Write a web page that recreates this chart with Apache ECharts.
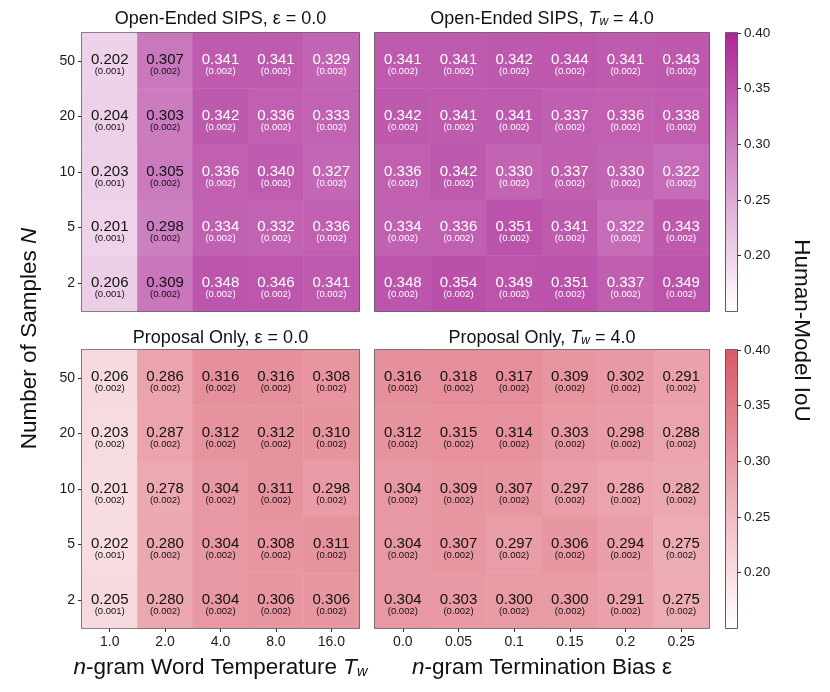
<!DOCTYPE html>
<html><head><meta charset="utf-8">
<script src="https://cdn.jsdelivr.net/npm/echarts@6/dist/echarts.min.js"></script>
<style>html,body{margin:0;padding:0;background:#fff}#c{width:830px;height:692px}</style>
</head><body><div id="c"></div>
<script>
// ---------- data ----------
const nSamples = ['2', '5', '10', '20', '50'];           // y categories, bottom -> top
const tempLabels = ['1.0', '2.0', '4.0', '8.0', '16.0'];   // n-gram word temperature T_w
const biasLabels = ['0.0', '0.05', '0.1', '0.15', '0.2', '0.25']; // termination bias eps
const cbarTicks = [0.20, 0.25, 0.30, 0.35, 0.40];

// rows listed top (N=50) to bottom (N=2)
const openEps0 = [
  [0.202, 0.307, 0.341, 0.341, 0.329],
  [0.204, 0.303, 0.342, 0.336, 0.333],
  [0.203, 0.305, 0.336, 0.340, 0.327],
  [0.201, 0.298, 0.334, 0.332, 0.336],
  [0.206, 0.309, 0.348, 0.346, 0.341]
];
const openEps0SE = [
  [0.001, 0.002, 0.002, 0.002, 0.002],
  [0.001, 0.002, 0.002, 0.002, 0.002],
  [0.001, 0.002, 0.002, 0.002, 0.002],
  [0.001, 0.002, 0.002, 0.002, 0.002],
  [0.001, 0.002, 0.002, 0.002, 0.002]
];
const openTw4 = [
  [0.341, 0.341, 0.342, 0.344, 0.341, 0.343],
  [0.342, 0.341, 0.341, 0.337, 0.336, 0.338],
  [0.336, 0.342, 0.330, 0.337, 0.330, 0.322],
  [0.334, 0.336, 0.351, 0.341, 0.322, 0.343],
  [0.348, 0.354, 0.349, 0.351, 0.337, 0.349]
];
const openTw4SE = [
  [0.002, 0.002, 0.002, 0.002, 0.002, 0.002],
  [0.002, 0.002, 0.002, 0.002, 0.002, 0.002],
  [0.002, 0.002, 0.002, 0.002, 0.002, 0.002],
  [0.002, 0.002, 0.002, 0.002, 0.002, 0.002],
  [0.002, 0.002, 0.002, 0.002, 0.002, 0.002]
];
const propEps0 = [
  [0.206, 0.286, 0.316, 0.316, 0.308],
  [0.203, 0.287, 0.312, 0.312, 0.310],
  [0.201, 0.278, 0.304, 0.311, 0.298],
  [0.202, 0.280, 0.304, 0.308, 0.311],
  [0.205, 0.280, 0.304, 0.306, 0.306]
];
const propEps0SE = [
  [0.002, 0.002, 0.002, 0.002, 0.002],
  [0.002, 0.002, 0.002, 0.002, 0.002],
  [0.002, 0.002, 0.002, 0.002, 0.002],
  [0.001, 0.002, 0.002, 0.002, 0.002],
  [0.001, 0.002, 0.002, 0.002, 0.002]
];
const propTw4 = [
  [0.316, 0.318, 0.317, 0.309, 0.302, 0.291],
  [0.312, 0.315, 0.314, 0.303, 0.298, 0.288],
  [0.304, 0.309, 0.307, 0.297, 0.286, 0.282],
  [0.304, 0.307, 0.297, 0.306, 0.294, 0.275],
  [0.304, 0.303, 0.300, 0.300, 0.291, 0.275]
];
const propTw4SE = [
  [0.002, 0.002, 0.002, 0.002, 0.002, 0.002],
  [0.002, 0.002, 0.002, 0.002, 0.002, 0.002],
  [0.002, 0.002, 0.002, 0.002, 0.002, 0.002],
  [0.002, 0.002, 0.002, 0.002, 0.002, 0.002],
  [0.002, 0.002, 0.002, 0.002, 0.002, 0.002]
];

// ---------- styling / layout ----------
const FONT = '"Liberation Sans", Arial, Helvetica, sans-serif';
const C_OPEN = '#ab2896';
const C_PROP = '#da5868';
const VMIN = 0.15, VMAX = 0.40;
const L1 = 82, W1 = 277, L2 = 375, W2 = 334, T1 = 33, T2 = 350, H = 278;
const CB_L = 726, CB_W = 11;

function toCells(rows, se) {
  const out = [];
  const n = rows.length;
  rows.forEach((row, r) => row.forEach((v, c) => out.push([c, n - 1 - r, v, se[r][c]])));
  return out;
}

const rich = {
  vb: { fontSize: 15, fontFamily: FONT, color: '#111', lineHeight: 14 },
  sb: { fontSize: 9.5, fontFamily: FONT, color: '#111', lineHeight: 9 },
  vw: { fontSize: 15, fontFamily: FONT, color: '#fff', lineHeight: 14 },
  sw: { fontSize: 9.5, fontFamily: FONT, color: '#fff', lineHeight: 9 }
};
function labelFmt(whiteAbove) {
  return p => {
    const v = p.data[2], s = p.data[3];
    const w = v > whiteAbove;
    return `{${w ? 'vw' : 'vb'}|${v.toFixed(3)}}\n{${w ? 'sw' : 'sb'}|(${s.toFixed(3)})}`;
  };
}

function heat(idx, rows, se, whiteAbove) {
  return {
    type: 'heatmap', xAxisIndex: idx, yAxisIndex: idx,
    data: toCells(rows, se),
    itemStyle: { borderWidth: 0 },
    label: { show: true, formatter: labelFmt(whiteAbove), rich, offset: [0, 4] },
    emphasis: { disabled: true }
  };
}

const grids = [
  { left: L1, top: T1, width: W1, height: H },
  { left: L2, top: T1, width: W2, height: H },
  { left: L1, top: T2, width: W1, height: H },
  { left: L2, top: T2, width: W2, height: H },
  { left: CB_L, top: T1, width: CB_W, height: H },
  { left: CB_L, top: T2, width: CB_W, height: H }
].map(g => Object.assign({ show: true, borderColor: '#333', borderWidth: 1.6, backgroundColor: 'transparent' }, g));

const tickStyle = { show: true, alignWithLabel: true, length: 4, lineStyle: { color: '#333', width: 1 } };
const lblStyle = { fontSize: 14, fontFamily: FONT, color: '#1a1a1a' };

function xAx(gi, cats, bottom, name) {
  const a = {
    type: 'category', gridIndex: gi, data: cats,
    axisLine: { show: false }, splitLine: { show: false },
    axisTick: bottom ? tickStyle : { show: false },
    axisLabel: bottom ? Object.assign({ margin: 7 }, lblStyle) : { show: false }
  };
  if (name) {
    a.name = name;
    a.nameLocation = 'middle';
    a.nameGap = 28;
    a.nameTextStyle = {
      fontSize: 22.5, fontFamily: FONT, color: '#111',
      rich: {
        i: { fontSize: 22.5, fontFamily: FONT, fontStyle: 'italic', color: '#111' },
        s: { fontSize: 14.5, fontFamily: FONT, fontStyle: 'italic', color: '#111', verticalAlign: 'bottom', lineHeight: 9 }
      }
    };
  }
  return a;
}
function yAx(gi, left) {
  return {
    type: 'category', gridIndex: gi, data: nSamples,
    axisLine: { show: false }, splitLine: { show: false },
    axisTick: left ? tickStyle : { show: false },
    axisLabel: left ? Object.assign({ margin: 7 }, lblStyle) : { show: false }
  };
}
function cbY(gi) {
  return {
    type: 'value', gridIndex: gi, min: VMIN, max: VMAX, position: 'right',
    axisLine: { show: false }, splitLine: { show: false },
    axisTick: { show: true, length: 4, customValues: cbarTicks, lineStyle: { color: '#333' } },
    axisLabel: { show: true, customValues: cbarTicks, formatter: v => v.toFixed(2), fontSize: 13.5, fontFamily: FONT, color: '#1a1a1a', margin: 7 }
  };
}

function cbar(idx, color) {
  return {
    type: 'bar', xAxisIndex: idx, yAxisIndex: idx, data: [VMAX], barWidth: '100%',
    silent: true, clip: true,
    itemStyle: {
      color: new echarts.graphic.LinearGradient(0, 0, 0, 1, [
        { offset: 0, color: color }, { offset: 1, color: '#ffffff' }
      ])
    }
  };
}

function titleText(x, y, text) {
  return {
    type: 'text', x, y, z: 10,
    style: {
      text, align: 'center', verticalAlign: 'middle', fill: '#111',
      font: `18px ${FONT}`,
      rich: {
        i: { fontSize: 18, fontFamily: FONT, fontStyle: 'italic', fill: '#111' },
        s: { fontSize: 12, fontFamily: FONT, fontStyle: 'italic', fill: '#111', verticalAlign: 'bottom', lineHeight: 8 }
      }
    }
  };
}

const option = {
  animation: false,
  backgroundColor: '#fff',
  grid: grids,
  xAxis: [
    xAx(0, tempLabels, false),
    xAx(1, biasLabels, false),
    xAx(2, tempLabels, true, '{i|n}-gram Word Temperature {i|T}{s|w}'),
    xAx(3, biasLabels, true, '{i|n}-gram Termination Bias ε'),
    { type: 'category', gridIndex: 4, data: ['c'], show: false },
    { type: 'category', gridIndex: 5, data: ['c'], show: false }
  ],
  yAxis: [yAx(0, true), yAx(1, false), yAx(2, true), yAx(3, false), cbY(4), cbY(5)],
  visualMap: [
    { show: false, type: 'continuous', min: VMIN, max: VMAX, dimension: 2, seriesIndex: [0, 1], inRange: { color: ['#ffffff', C_OPEN] } },
    { show: false, type: 'continuous', min: VMIN, max: VMAX, dimension: 2, seriesIndex: [2, 3], inRange: { color: ['#ffffff', C_PROP] } }
  ],
  series: [
    heat(0, openEps0, openEps0SE, 0.315),
    heat(1, openTw4, openTw4SE, 0.315),
    heat(2, propEps0, propEps0SE, 1),
    heat(3, propTw4, propTw4SE, 1),
    cbar(4, C_OPEN),
    cbar(5, C_PROP)
  ],
  graphic: [
    titleText(L1 + W1 / 2, T1 - 14, 'Open-Ended SIPS, ε = 0.0'),
    titleText(L2 + W2 / 2, T1 - 14, 'Open-Ended SIPS, {i|T}{s|w} = 4.0'),
    titleText(L1 + W1 / 2, T2 - 12, 'Proposal Only, ε = 0.0'),
    titleText(L2 + W2 / 2, T2 - 12, 'Proposal Only, {i|T}{s|w} = 4.0'),
    {
      type: 'text', x: 30, y: (T1 + T2 + H) / 2 + 8, rotation: Math.PI / 2, z: 10,
      style: {
        text: 'Number of Samples {i|N}', align: 'center', verticalAlign: 'middle', fill: '#111',
        font: `22.5px ${FONT}`,
        rich: { i: { fontSize: 22.5, fontFamily: FONT, fontStyle: 'italic', fill: '#111' } }
      }
    },
    {
      type: 'text', x: 801, y: (T1 + T2 + H) / 2, rotation: -Math.PI / 2, z: 10,
      style: { text: 'Human-Model IoU', align: 'center', verticalAlign: 'middle', fill: '#111', font: `22.5px ${FONT}` }
    }
  ]
};

const chart = echarts.init(document.getElementById('c'), null, { renderer: 'canvas' });
chart.setOption(option);
</script>
</body></html>
